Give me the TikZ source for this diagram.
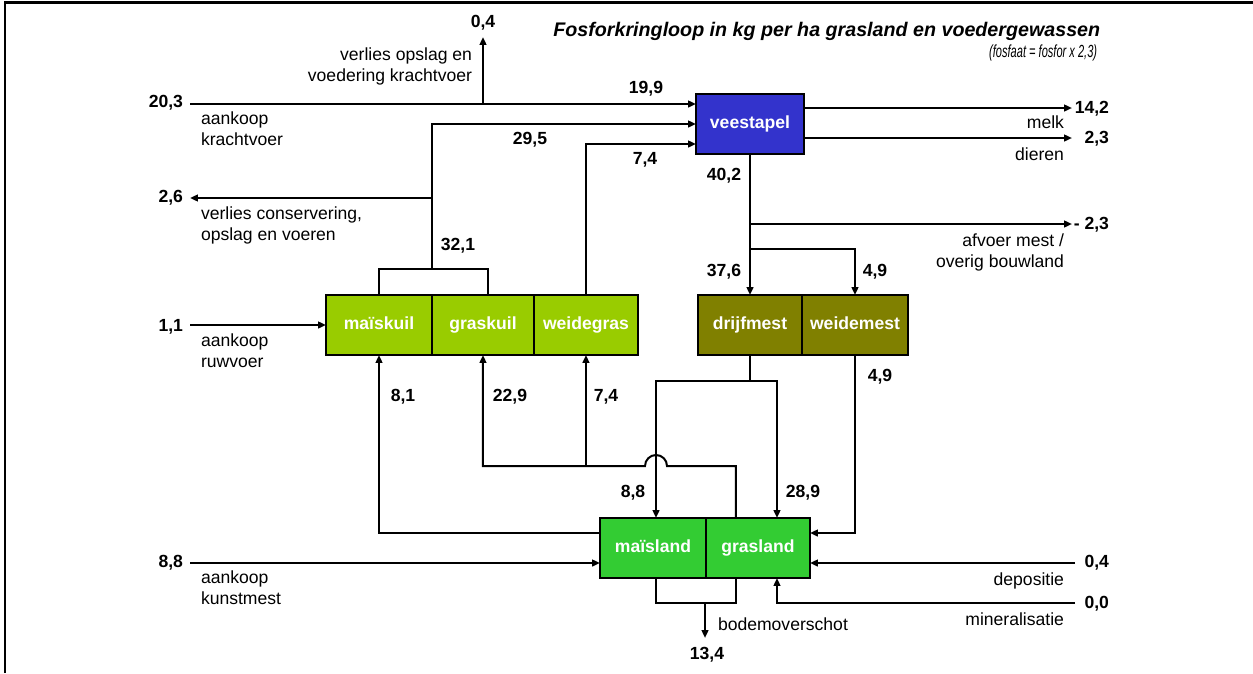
\documentclass[tikz,border=0pt]{standalone}
\usepackage{fontspec}
\setmainfont{Liberation Sans}
\setsansfont{Liberation Sans}
\newfontfamily\narrowsans[FakeStretch=0.63]{Liberation Sans}
\usetikzlibrary{
  arrows.meta,
  positioning,  % Function "of" (e.g. [right=0pt of x])
  calc,         % Calculations $...$
}
\definecolor{veeblue}{HTML}{3333CC}
\definecolor{kuilgreen}{HTML}{99CC00}
\definecolor{mestolive}{HTML}{808000}
\definecolor{landgreen}{HTML}{33CC33}
\def\myboxh{1.2cm}
\def\myfs{\fontsize{10}{12}\selectfont}
\tikzset{
  font=\sffamily\myfs,
  >={Triangle[length=4.5pt,width=3.8pt]},
  flow/.style={
    line width=0.04cm
  },
  my box/.style={
    draw,
    line width=0.055cm,
    minimum height=\myboxh,
    inner sep=0mm,
    outer sep=0mm,
    text=white,
    text height=7.4pt,
    text depth=2.1pt,
    font=\sffamily\bfseries\myfs,
    rectangle
  },
  vee box/.style={my box, fill=veeblue, minimum width=2.16cm},
  kuil box/.style={my box, fill=kuilgreen},
  mest box/.style={my box, fill=mestolive},
  land box/.style={my box, fill=landgreen},
  num/.style={
    font=\sffamily\bfseries\myfs,
    inner sep=0mm
  },
  lbl/.style={align=left, inner sep=0mm, anchor=north west},
  lbl r/.style={align=right, inner sep=0mm, anchor=north east}
}

\begin{document}
\begin{tikzpicture}[x=0.02cm, y=-0.02cm, flow]
\useasboundingbox (0,0) rectangle (1253,673);
\draw[line width=0.06cm] (5,673) -- (5,2) -- (1253,2);

% title
\node[anchor=base east, font=\sffamily\bfseries\itshape\fontsize{11.2}{13}\selectfont] (title) at (1107,36)
  {Fosforkringloop in kg per ha grasland en voedergewassen};
\node[anchor=base east, font=\narrowsans\itshape\fontsize{10}{12}\selectfont] (subtitle) at (1104,57)
  {(fosfaat = fosfor x 2,3)};

% boxes
\node[vee box] (vee) at (750,124) {veestapel};
\node[kuil box, minimum width=2.12cm] (maiskuil) at (379,325) {maïskuil};
\node[kuil box, minimum width=2.04cm, right=0pt of maiskuil] (graskuil) {graskuil};
\node[kuil box, minimum width=2.08cm, right=0pt of graskuil] (weidegras) {weidegras};
\node[mest box, minimum width=2.08cm] (drijfmest) at (750,325) {drijfmest};
\node[mest box, minimum width=2.12cm, right=0pt of drijfmest] (weidemest) {weidemest};
\node[land box, minimum width=2.12cm] (maisland) at (653,548) {maïsland};
\node[land box, minimum width=2.08cm, right=0pt of maisland] (grasland) {grasland};

% free ends
\coordinate (krachtvoer) at (190,104);
\coordinate (verlieskv) at (483,37);
\coordinate (conserv) at (190,198);
\coordinate (ruwvoer) at (190,325);
\coordinate (kunstmest) at (190,563);
\coordinate (melk) at (1072,108);
\coordinate (dieren) at (1072,138);
\coordinate (afvoer) at (1072,224);
\coordinate (depositie) at (1075,563);
\coordinate (mineral) at (1075,603);
\coordinate (bodem) at (705,638);
\coordinate (kuiltop) at (432,269);
\coordinate (mestsplit) at (750,249);
\coordinate (hop) at (656,466);

% veestapel in and out
\draw[->] (krachtvoer) -- (krachtvoer -| vee.west);
\draw[->] (verlieskv |- krachtvoer) -- (verlieskv);
\draw (maiskuil.north) |- (kuiltop) -| ($(graskuil.north)+(5,0)$);
\draw[->] (kuiltop) |- (vee.west);
\draw[->] (kuiltop |- conserv) -- (conserv);
\draw[->] (weidegras.north) |- ($(vee.west)+(0,20)$);
\draw[->] (vee.east |- melk) -- (melk);
\draw[->] (vee.east |- dieren) -- (dieren);
\draw[->] (vee.south) -- (drijfmest.north);
\draw[->] (vee.south |- afvoer) -- (afvoer);
\draw[->] (mestsplit) -| (weidemest.north);
\draw[->] (ruwvoer) -- (maiskuil.west);

% mest to land
\draw[->] (drijfmest.south) -- ++(0,26) -| ($(maisland.north)+(3,0)$);
\draw[->] (drijfmest.south) -- ++(0,26) -| ($(grasland.north)+(19,0)$);
\draw[->] (weidemest.south) |- ($(grasland.east)+(0,-15)$);

% land to kuil
\draw[->] ($(grasland.north)+(-22,0)$) |- ($(hop)+(11,0)$)
  arc[start angle=0, end angle=180, radius=0.22cm] -| (graskuil.south);
\draw[->] (weidegras.south |- hop) -- (weidegras.south);
\draw[->] ($(maisland.west)+(0,-15)$) -| (maiskuil.south);

% land in and out
\draw[->] (kunstmest) -- (kunstmest -| maisland.west);
\draw[->] (depositie) -- (depositie -| grasland.east);
\draw[->] (mineral) -| ($(grasland.south)+(19,0)$);
\draw ($(maisland.south)+(3,0)$) |- (bodem |- mineral) -| ($(grasland.south)+(-22,0)$);
\draw[->] (bodem |- mineral) -- (bodem);

% numbers
\node[num] (n1) at (483,23) {0,4};
\node[num, anchor=east] (n2) at (184,103) {20,3};
\node[num] (n3) at (646,89) {19,9};
\node[num] (n4) at (530,140) {29,5};
\node[num] (n5) at (645,160) {7,4};
\node[num] (n6) at (724,176) {40,2};
\node[num, anchor=east] (n7) at (1110,109) {14,2};
\node[num, anchor=east] (n8) at (1110,139) {2,3};
\node[num, anchor=east] (n9) at (184,198) {2,6};
\node[num, anchor=east] (n10) at (1110,225) {- 2,3};
\node[num] (n11) at (458,246) {32,1};
\node[num] (n12) at (724,272) {37,6};
\node[num] (n13) at (875,272) {4,9};
\node[num, anchor=east] (n14) at (184,327) {1,1};
\node[num] (n15) at (880,377) {4,9};
\node[num] (n16) at (403,397) {8,1};
\node[num] (n17) at (510,397) {22,9};
\node[num] (n18) at (606,397) {7,4};
\node[num] (n19) at (633,493) {8,8};
\node[num] (n20) at (803,493) {28,9};
\node[num, anchor=east] (n21) at (184,563) {8,8};
\node[num, anchor=east] (n22) at (1110,563) {0,4};
\node[num, anchor=east] (n23) at (1110,604) {0,0};
\node[num] (n24) at (707,655) {13,4};

% descriptions
\node[lbl r] (l1) at (473,47) {verlies opslag en\\voedering krachtvoer};
\node[lbl] (l2) at (200,111) {aankoop\\krachtvoer};
\node[lbl] (l3) at (200,206) {verlies conservering,\\opslag en voeren};
\node[lbl] (l4) at (200,333) {aankoop\\ruwvoer};
\node[lbl r] (l5) at (1065,115) {melk};
\node[lbl r] (l6) at (1065,147) {dieren};
\node[lbl r] (l7) at (1065,233) {afvoer mest /\\overig bouwland};
\node[lbl] (l8) at (200,570) {aankoop\\kunstmest};
\node[lbl r] (l9) at (1065,572) {depositie};
\node[lbl r] (l10) at (1065,612) {mineralisatie};
\node[lbl] (l11) at (717,617) {bodemoverschot};
\end{tikzpicture}
\end{document}
